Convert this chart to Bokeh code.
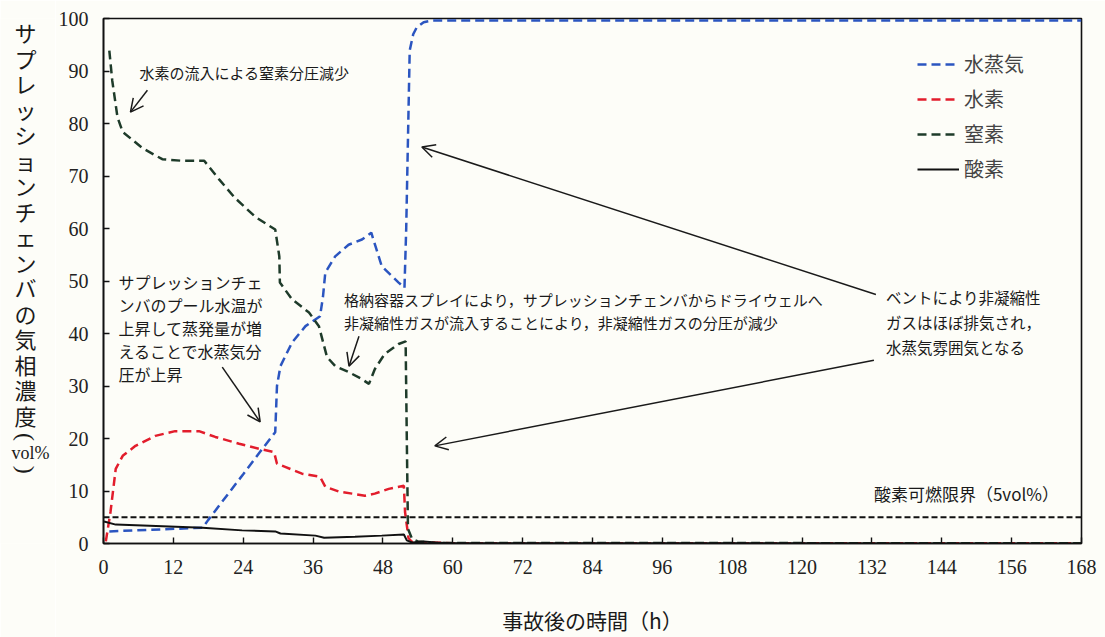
import math
from bokeh.plotting import figure
from bokeh.layouts import row
from bokeh.models import Range1d, FixedTicker, Label, Arrow, OpenHead, Legend, LegendItem
from bokeh.embed import file_html
from bokeh.resources import INLINE

# ---------------- data ----------------
series_names = ["水蒸気", "水素", "窒素", "酸素"]

t_h2o = [1.0, 5, 10, 17.0, 18.0, 20, 24, 27, 29.5, 29.8, 30.4, 32.4, 34.7, 37.2, 37.7, 38.1,
         39.8, 42.1, 44.4, 46.0, 47.8, 50.7, 51.7, 52.0, 52.6, 53.2, 53.8, 55, 56.4, 60, 168]
v_h2o = [2.3, 2.5, 2.7, 3.0, 4.5, 7.4, 13.2, 17.6, 21.2, 30.0, 33.8, 38.3, 41.4, 43.3, 47.0, 51.6,
         54.7, 56.9, 57.9, 59.2, 52.8, 49.7, 48.7, 60.0, 93.9, 97.0, 98.3, 99.3, 99.6, 99.6, 99.6]

t_h2 = [0.4, 1.2, 2.1, 3.3, 5.5, 8.9, 12.3, 16.4, 19.2, 23.3, 26.9, 29.3, 29.8, 31.2, 34.1, 37.2,
        38.1, 40.4, 42.7, 44.9, 46.6, 49.0, 51.6, 51.8, 52.4, 53.0, 60, 168]
v_h2 = [0.4, 6.0, 14.2, 16.7, 18.6, 20.5, 21.4, 21.4, 20.3, 19.0, 18.0, 17.4, 15.2, 14.6, 13.3, 12.7,
        10.8, 9.9, 9.5, 9.1, 9.5, 10.4, 11.0, 6.0, 1.0, 0.3, 0.05, 0.05]

t_n2 = [1.0, 1.5, 2.4, 3.3, 6.7, 10.1, 13.5, 17.3, 19.9, 22.6, 26.1, 29.5, 30.2, 30.3, 32.4, 35.3,
        37.0, 37.9, 38.4, 39.8, 42.2, 44.4, 45.6, 46.6, 48.3, 50.7, 51.9, 52.1, 52.3, 53.0, 54.0, 56.5, 168]
v_n2 = [93.9, 88.2, 81.2, 78.4, 75.3, 73.2, 72.9, 72.9, 69.3, 65.8, 62.2, 59.8, 54.7, 49.7, 46.5, 44.0,
        41.4, 37.6, 35.5, 33.8, 32.6, 31.3, 30.4, 33.2, 36.1, 38.0, 38.5, 20.0, 2.8, 0.9, 0.4, 0.1, 0.05]

t_o2 = [0.1, 2.1, 7.9, 17.0, 23.8, 29.5, 30.4, 36.4, 37.9, 43.2, 47.8, 51.6, 52.1, 53.0, 55.0, 57.0, 60.0, 168]
v_o2 = [4.2, 3.6, 3.4, 3.0, 2.5, 2.3, 1.9, 1.5, 1.1, 1.3, 1.5, 1.7, 0.6, 0.2, 0.4, 0.2, 0.05, 0.0]

limit_t = [0, 168]
limit_v = [5, 5]

x_ticks = list(range(0, 169, 12))
y_ticks = list(range(0, 101, 10))

# ---------------- layout helpers ----------------
PAGE_W, PAGE_H = 1105, 637
SIDE_W = 55                            # strip holding the vertical y title
FL, FT, FR, FB = 101, 18, 1081, 545    # frame edges in page pixels
X0, X1, Y0, Y1 = 0, 168, 0, 100

def d(px, py):
    return (X0 + (px - FL) * (X1 - X0) / (FR - FL), Y0 + (FB - py) * (Y1 - Y0) / (FB - FT))

BG = "#fdfdf8"
INK = "#1a1a1a"
JP = "Noto Sans CJK JP"
SERIF = "Liberation Serif"

p = figure(width=PAGE_W - SIDE_W, height=PAGE_H, x_range=Range1d(X0, X1), y_range=Range1d(Y0, Y1),
           output_backend="svg", toolbar_location=None,
           min_border_left=FL - SIDE_W, min_border_right=PAGE_W - FR,
           min_border_top=FT, min_border_bottom=PAGE_H - FB)
p.background_fill_color = BG
p.border_fill_color = BG
p.outline_line_color = "#111111"
p.outline_line_width = 1.6
p.xgrid.visible = False
p.ygrid.visible = False

for ax, ticks in ((p.xaxis, x_ticks), (p.yaxis, y_ticks)):
    ax.ticker = FixedTicker(ticks=ticks)
    ax.major_tick_in = 6
    ax.major_tick_out = 0
    ax.minor_tick_in = 0
    ax.minor_tick_out = 0
    ax.axis_line_color = "#111111"
    ax.axis_line_width = 1.6
    ax.major_tick_line_color = "#111111"
    ax.major_tick_line_width = 1.4
    ax.major_label_text_font = SERIF
    ax.major_label_text_font_size = "20px"
    ax.major_label_text_color = "#222222"
p.xaxis.major_label_standoff = 16
p.yaxis.major_label_standoff = 15

p.xaxis.axis_label = "事故後の時間（h）"
p.xaxis.axis_label_text_font = JP
p.xaxis.axis_label_text_font_style = "normal"
p.xaxis.axis_label_text_font_size = "21px"
p.xaxis.axis_label_text_color = INK
p.xaxis.axis_label_standoff = 28

# ---------------- lines ----------------
p.line(limit_t, limit_v, line_color="#111111", line_width=1.8, line_dash="6 3")
r_h2o = p.line(t_h2o, v_h2o, line_color="#2b55c0", line_width=2.5, line_dash="9 5")
r_h2 = p.line(t_h2, v_h2, line_color="#e21d2c", line_width=2.5, line_dash="9 5")
r_n2 = p.line(t_n2, v_n2, line_color="#1e3b2a", line_width=2.5, line_dash="9 5")
r_o2 = p.line(t_o2, v_o2, line_color="#111111", line_width=2.0)

legend = Legend(items=[LegendItem(label=n, renderers=[r]) for n, r in
                       zip(series_names, [r_h2o, r_h2, r_n2, r_o2])],
                location=(814, 360), padding=0, spacing=6, glyph_width=42, glyph_height=20,
                label_height=20, label_standoff=5, label_text_font=JP,
                label_text_font_size="20px", border_line_color=None,
                background_fill_alpha=0)
p.add_layout(legend)

# ---------------- texts ----------------
def text(s, px, py, size, align="left", font=JP):
    x, y = d(px, py)
    p.add_layout(Label(x=x, y=y, text=s, text_font=font, text_font_size=size,
                       text_align=align, text_baseline="middle", text_color=INK))

def lines(ss, px, py0, step, size):
    for i, s in enumerate(ss):
        text(s, px, py0 + i * step, size)

def arrow(a, b):
    x0, y0 = d(*a)
    x1, y1 = d(*b)
    p.add_layout(Arrow(x_start=x0, y_start=y0, x_end=x1, y_end=y1, line_width=1.5,
                       line_color=INK,
                       end=OpenHead(size=13, line_width=1.5, line_color=INK)))

text("水素の流入による窒素分圧減少", 137, 72, "15px")
arrow((145, 90), (128, 112))

lines(["サプレッションチェ", "ンバのプール水温が", "上昇して蒸発量が増",
       "えることで水蒸気分", "圧が上昇"], 116, 283, 23, "16px")
arrow((220, 368), (258, 423))

lines(["格納容器スプレイにより，サプレッションチェンバからドライウェルへ",
       "非凝縮性ガスが流入することにより，非凝縮性ガスの分圧が減少"], 342, 300, 23, "15px")
arrow((357, 337), (347, 367))

lines(["ベントにより非凝縮性", "ガスはほぼ排気され，", "水蒸気雰囲気となる"], 885, 298, 25, "15.5px")
arrow((875, 295), (420, 147))
arrow((873, 361), (433, 447))

text("酸素可燃限界（5vol%）", 873, 495, "17px")

# ---------------- vertical y-axis title (separate strip) ----------------
# the row layout aligns this strip's frame with the main frame (page y FT..FB),
# so its flipped y range makes data y equal to page y
side = figure(width=SIDE_W, height=PAGE_H, x_range=Range1d(0, SIDE_W), y_range=Range1d(FB, FT),
              output_backend="svg", toolbar_location=None, min_border=0,
              min_border_top=FT, min_border_bottom=PAGE_H - FB,
              x_axis_type=None, y_axis_type=None)
side.background_fill_color = BG
side.border_fill_color = BG
side.outline_line_color = None
side.grid.visible = False

def stext(s, px, py, size, font=JP, angle=0.0):
    side.add_layout(Label(x=px, y=py, text=s, text_font=font, text_font_size=size, angle=angle,
                          text_align="center", text_baseline="middle", text_color=INK))

ylab = "サプレッションチェンバの気相濃度"
for i, ch in enumerate(ylab):
    stext(ch, 25, 32 + i * 25.6, "22px")
stext("(", 25, 438, "24px", font=SERIF, angle=-math.pi / 2)
stext("vol%", 30, 454, "18px", font=SERIF)
stext(")", 25, 471, "24px", font=SERIF, angle=-math.pi / 2)

layout = row(side, p)
open("out.html", "w").write(file_html(layout, INLINE))
